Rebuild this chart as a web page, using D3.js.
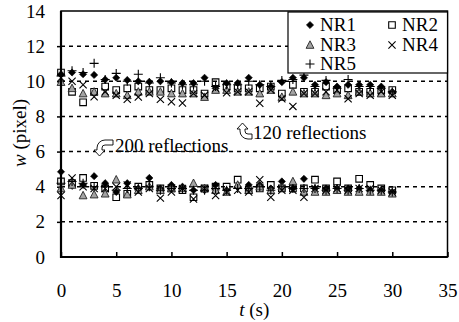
<!DOCTYPE html>
<html>
<head>
<meta charset="utf-8">
<script src="https://cdn.jsdelivr.net/npm/d3@7/dist/d3.min.js"></script>
<style>
	body { margin: 0; background: #fff; }
</style>
</head>
<body>
<div id="chart"></div>
<script>
// time axis (s)
var times = [0, 1, 2, 3, 4, 5, 6, 7, 8, 9, 10, 11, 12, 13, 14, 15, 16, 17, 18, 19, 20, 21, 22, 23, 24, 25, 26, 27, 28, 29, 30];

// 120 reflections (upper band)
var nr1Upper = [10.4, 10.5, 10.4, 10.36, 10.1, 10.2, 10.07, 10.0, 9.97, 10.0, 9.95, 9.9, 9.9, 10.2, 9.6, 9.9, 9.9, 10.2, 9.8, 9.7, 9.95, 10.2, 10.2, 9.8, 9.95, 9.7, 9.8, 9.8, 9.8, 9.7, 9.4];
var nr2Upper = [10.5, 9.4, 8.8, 9.4, 9.7, 9.5, 9.6, 9.7, 9.5, 9.5, 9.6, 9.5, 9.5, 9.3, 9.95, 9.7, 9.6, 9.6, 9.6, 9.7, 9.3, 9.8, 9.4, 9.4, 9.7, 9.5, 9.6, 9.4, 9.4, 9.5, 9.5];
var nr3Upper = [9.95, 9.6, 9.3, 9.4, 9.3, 9.3, 9.2, 9.4, 9.4, 9.4, 9.3, 9.3, 9.3, 9.1, 9.5, 9.5, 9.4, 9.4, 9.3, 9.5, 9.1, 9.4, 9.3, 9.3, 9.2, 9.3, 9.2, 9.4, 9.3, 9.3, 9.3];
var nr4Upper = [10.2, 10.0, 9.8, 9.12, 9.4, 9.2, 8.97, 9.1, 9.3, 8.97, 8.84, 8.76, 9.3, 9.2, 9.6, 9.35, 9.4, 9.4, 8.75, 9.5, 9.0, 8.57, 9.3, 9.3, 9.4, 9.5, 9.0, 9.3, 9.2, 9.4, 9.2];
var nr5Upper = [10.3, 10.6, 10.5, 11.02, 10.1, 10.45, 10.0, 10.4, 9.9, 10.2, 9.9, 9.8, 9.8, 10.0, 9.7, 9.8, 9.8, 10.0, 9.8, 9.7, 10.05, 10.1, 10.35, 9.7, 10.05, 9.6, 10.1, 9.7, 9.7, 9.6, 9.4];

// 200 reflections (lower band)
var nr1Lower = [4.85, 4.05, 4.1, 4.6, 4.2, 3.7, 4.2, 3.9, 4.5, 3.9, 4.1, 4.0, 3.8, 3.8, 4.1, 3.8, 4.0, 4.1, 4.1, 3.9, 4.3, 3.9, 4.45, 3.9, 3.9, 3.9, 3.9, 3.9, 3.8, 3.8, 3.7];
var nr2Lower = [4.3, 4.2, 4.5, 4.05, 3.9, 3.4, 3.6, 4.0, 4.1, 3.9, 3.9, 3.8, 3.4, 3.9, 4.0, 4.0, 4.4, 3.8, 3.9, 4.1, 3.9, 3.9, 3.9, 4.4, 3.9, 4.3, 3.9, 4.45, 4.1, 3.9, 3.8];
var nr3Lower = [3.9, 4.1, 3.5, 3.55, 3.6, 4.4, 3.55, 3.8, 4.0, 3.8, 3.9, 3.9, 4.2, 3.9, 3.8, 3.7, 4.1, 3.8, 4.0, 3.8, 4.0, 4.3, 3.7, 3.7, 3.7, 3.8, 3.7, 3.7, 3.7, 3.7, 3.6];
var nr4Lower = [3.5, 4.5, 4.0, 3.9, 3.9, 4.0, 4.1, 3.7, 3.9, 3.35, 3.7, 3.9, 3.3, 3.9, 3.5, 3.7, 3.8, 3.7, 4.4, 3.4, 3.8, 3.8, 3.4, 3.9, 3.8, 3.9, 3.8, 3.9, 3.9, 3.8, 3.7];
var nr5Lower = [4.2, 4.3, 4.2, 4.0, 4.0, 3.8, 3.9, 3.9, 4.0, 3.8, 3.9, 3.9, 3.8, 3.8, 3.9, 3.8, 3.9, 3.9, 4.0, 3.8, 4.0, 3.9, 3.9, 3.9, 3.8, 3.9, 3.8, 3.9, 3.8, 3.8, 3.7];

var seriesNames = ['NR1', 'NR2', 'NR3', 'NR4', 'NR5'];
var xTicks = [0, 5, 10, 15, 20, 25, 30, 35];
var yTicks = [0, 2, 4, 6, 8, 10, 12, 14];
var gridValues = [2, 4, 6, 8, 10, 12];

var font = 'Liberation Serif';
var fontSize = 19;

var width = 459, height = 322;
var margin = {left: 61, top: 11, right: 11.5, bottom: 65};
var plotW = width - margin.left - margin.right;
var plotH = height - margin.top - margin.bottom;

// marker shapes, drawn in local coords
var markers = {
	NR1: {d: 'M0,-3.6L3.6,0L0,3.6L-3.6,0Z', fill: '#000', stroke: '#000', sw: 0.6},
	NR2: {d: 'M-3.3,-3.3H3.3V3.3H-3.3Z', fill: 'none', stroke: '#000', sw: 1.1},
	NR3: {d: 'M0,-4.2L3.9,3.3L-3.9,3.3Z', fill: '#a3a3a3', stroke: '#222', sw: 0.9},
	NR4: {d: 'M-3.6,-3.6L3.6,3.6M-3.6,3.6L3.6,-3.6', fill: 'none', stroke: '#000', sw: 1.1},
	NR5: {d: 'M-4.5,0H4.5M0,-4.5V4.5', fill: 'none', stroke: '#000', sw: 1.1}
};

var svg = d3.select('#chart')
	.append('svg')
	.attr('width', width)
	.attr('height', height)
	.attr('font-family', font)
	.attr('font-size', fontSize);

var x = d3.scaleLinear().domain([0, 35]).range([0, plotW]);
var y = d3.scaleLinear().domain([0, 14]).range([plotH, 0]);

var g = svg.append('g')
	.attr('transform', 'translate(' + margin.left + ',' + margin.top + ')');

// dashed grid
g.selectAll('.grid')
	.data(gridValues).enter()
	.append('line')
	.attr('x1', 0)
	.attr('x2', plotW)
	.attr('y1', function(d) { return y(d); })
	.attr('y2', function(d) { return y(d); })
	.attr('stroke', '#000')
	.attr('stroke-width', 1.5)
	.attr('stroke-dasharray', '4,4');

// axes
var xAxis = d3.axisBottom(x).tickValues(xTicks).tickSize(-5).tickPadding(27);
var yAxis = d3.axisLeft(y).tickValues(yTicks).tickSize(4).tickPadding(12);

var gx = g.append('g')
	.attr('transform', 'translate(0,' + plotH + ')')
	.call(xAxis);
var gy = g.append('g').call(yAxis);

[gx, gy].forEach(function(ax) {
	ax.attr('font-family', font).attr('font-size', fontSize);
	ax.select('.domain').remove();
	ax.selectAll('line').attr('stroke', '#000').attr('stroke-width', 1.5);
	ax.selectAll('text').attr('fill', '#000');
});
gy.selectAll('.tick')
	.filter(function(d) { return d === 0 || d === 14; })
	.select('line').remove();

// data points
var groups = [
	[nr1Upper, nr2Upper, nr3Upper, nr4Upper, nr5Upper],
	[nr1Lower, nr2Lower, nr3Lower, nr4Lower, nr5Lower]
];

groups.forEach(function(group) {
	group.forEach(function(values, i) {
		var m = markers[seriesNames[i]];
		g.selectAll(null)
			.data(values).enter()
			.append('path')
			.attr('transform', function(d, j) { return 'translate(' + x(times[j]) + ',' + y(d) + ')'; })
			.attr('d', m.d)
			.attr('fill', m.fill)
			.attr('stroke', m.stroke)
			.attr('stroke-width', m.sw);
	});
});

// plot frame
g.append('rect')
	.attr('width', plotW)
	.attr('height', plotH)
	.attr('fill', 'none')
	.attr('stroke', '#000')
	.attr('stroke-width', 1.5);
g.append('path')
	.attr('d', 'M0,0V' + plotH + 'H' + plotW)
	.attr('fill', 'none')
	.attr('stroke', '#000')
	.attr('stroke-width', 2.2);

// annotations (u-turn block arrows)
svg.append('path')
	.attr('d', 'M16,0H8A8,8 0 0 0 0,8V10H-3L2.5,16L8,10H5V8A3,3 0 0 1 8,5H16Z')
	.attr('transform', 'translate(97,140)')
	.attr('fill', '#fff')
	.attr('stroke', '#000')
	.attr('stroke-width', 0.9);
svg.append('text')
	.attr('x', 115)
	.attr('y', 152)
	.text('200 reflections');

svg.append('path')
	.attr('d', 'M12,0H8A8,8 0 0 0 0,8V10H-3L2.5,16L8,10H5V8A3,3 0 0 1 8,5H12Z')
	.attr('transform', 'translate(240,139) scale(1,-1)')
	.attr('fill', '#fff')
	.attr('stroke', '#000')
	.attr('stroke-width', 0.9);
svg.append('text')
	.attr('x', 253)
	.attr('y', 139)
	.text('120 reflections');

// legend
var legend = svg.append('g');
legend.append('rect')
	.attr('x', 288)
	.attr('y', 12)
	.attr('width', 159.5)
	.attr('height', 61)
	.attr('fill', '#fff')
	.attr('stroke', '#000')
	.attr('stroke-width', 1.2);

var legendPos = [[310, 25], [392, 25], [310, 45], [392, 45], [310, 64]];
var keys = legend.selectAll('.key')
	.data(seriesNames).enter()
	.append('g')
	.attr('transform', function(d, i) { return 'translate(' + legendPos[i][0] + ',' + legendPos[i][1] + ')'; });

keys.append('path')
	.attr('d', function(d) { return markers[d].d; })
	.attr('fill', function(d) { return markers[d].fill; })
	.attr('stroke', function(d) { return markers[d].stroke; })
	.attr('stroke-width', function(d) { return markers[d].sw; });

keys.append('text')
	.attr('x', 10)
	.attr('y', 6)
	.text(function(d) { return d; });

// axis titles
var xt = svg.append('text')
	.attr('x', margin.left + plotW / 2)
	.attr('y', 316)
	.attr('text-anchor', 'middle');
xt.append('tspan').attr('font-style', 'italic').text('t');
xt.append('tspan').text(' (s)');

var yt = svg.append('text')
	.attr('transform', 'translate(26,133) rotate(-90)')
	.attr('text-anchor', 'middle');
yt.append('tspan').attr('font-style', 'italic').text('w');
yt.append('tspan').text(' (pixel)');
</script>
</body>
</html>
